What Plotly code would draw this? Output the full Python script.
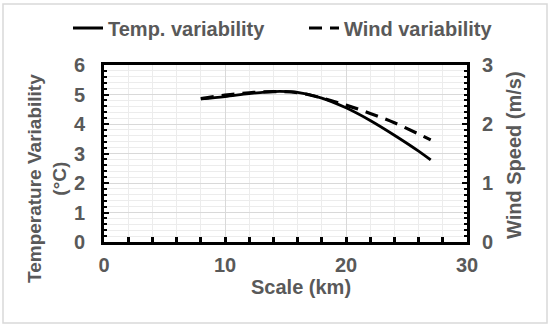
import plotly.graph_objects as go

scale_km = [8, 10, 12, 14, 16, 18, 20, 22, 24, 26, 27]
temp_var = [4.85, 4.93, 5.03, 5.10, 5.07, 4.88, 4.55, 4.12, 3.62, 3.08, 2.78]
wind_var = [2.43, 2.49, 2.53, 2.55, 2.53, 2.44, 2.32, 2.18, 2.02, 1.83, 1.73]

FONT = "Liberation Sans, Arial, sans-serif"
GRAY = "#595959"
FS = 20

fig = go.Figure()
fig.add_trace(go.Scatter(x=scale_km, y=temp_var, mode="lines", name="<b>Temp. variability</b>",
                         legend="legend",
                         line=dict(color="black", width=2.8, shape="spline")))
fig.add_trace(go.Scatter(x=scale_km, y=wind_var, mode="lines", name="<b>Wind variability</b>",
                         legend="legend2", yaxis="y2",
                         line=dict(color="black", width=3.2, dash="13px,8px", shape="spline")))

W, H = 550, 329
L, R, T, B = 104, 83, 65, 87
pw, ph = W - L - R, H - T - B

def px2paper_x(p):
    return (p - L) / pw

def px2paper_y(p):
    return (H - B - p) / ph

leg_common = dict(orientation="h", xref="paper", yref="paper", xanchor="left",
                  y=px2paper_y(28), yanchor="middle", bgcolor="rgba(0,0,0,0)",
                  font=dict(size=FS, color=GRAY), itemwidth=30)

fig.update_layout(
    width=W, height=H,
    margin=dict(l=L, r=R, t=T, b=B, autoexpand=False),
    paper_bgcolor="white", plot_bgcolor="white",
    font=dict(family=FONT, color=GRAY, size=FS),
    showlegend=True,
    legend=dict(x=px2paper_x(68), **leg_common),
    legend2=dict(x=px2paper_x(304), **leg_common),
    xaxis=dict(range=[0, 30], dtick=10, tick0=0, showgrid=True, gridcolor="#d9d9d9", gridwidth=1,
               ticks="inside", ticklen=5, tickwidth=2.5, tickcolor="black",
               minor=dict(dtick=2, ticks="inside", ticklen=5, tickwidth=2.5, tickcolor="black",
                          showgrid=True, gridcolor="#ececec", gridwidth=1),
               showline=True, linecolor="black", linewidth=3, mirror=True, zeroline=False,
               tickfont=dict(size=FS, color=GRAY, family=FONT), ticklabelstandoff=3,
               tickprefix="<b>", ticksuffix="</b>", automargin=False),
    yaxis=dict(range=[0, 6], dtick=1, showgrid=True, gridcolor="#d9d9d9", gridwidth=1,
               ticks="inside", ticklen=5, tickwidth=2, tickcolor="black",
               minor=dict(dtick=0.2, ticks="inside", ticklen=3, tickwidth=2, tickcolor="black",
                          showgrid=True, gridcolor="#ececec", gridwidth=1),
               showline=True, linecolor="black", linewidth=3, mirror=True, zeroline=False,
               tickfont=dict(size=FS, color=GRAY, family=FONT), ticklabelstandoff=12,
               tickprefix="<b>", ticksuffix="</b>", automargin=False),
    yaxis2=dict(range=[0, 3], dtick=1, overlaying="y", side="right", showgrid=False,
                ticks="inside", ticklen=5, tickwidth=2, tickcolor="black",
                minor=dict(dtick=0.1, ticks="inside", ticklen=3, tickwidth=2, tickcolor="black"),
                showline=False, zeroline=False,
                tickfont=dict(size=FS, color=GRAY, family=FONT), ticklabelstandoff=14,
                tickprefix="<b>", ticksuffix="</b>", automargin=False),
    annotations=[
        dict(text="<b>Scale (km)</b>", xref="paper", yref="paper", x=px2paper_x(301), y=px2paper_y(287),
             xanchor="center", yanchor="middle", showarrow=False, font=dict(size=FS, color=GRAY)),
        dict(text="<b>Temperature Variability<br>(°C)</b>", xref="paper", yref="paper", x=px2paper_x(47),
             y=px2paper_y(179), xanchor="center", yanchor="middle", textangle=-90, showarrow=False,
             font=dict(size=19, color=GRAY)),
        dict(text="<b>Wind Speed (m/s)</b>", xref="paper", yref="paper", x=px2paper_x(514),
             y=px2paper_y(155), xanchor="center", yanchor="middle", textangle=-90, showarrow=False,
             font=dict(size=FS, color=GRAY)),
    ],
    shapes=[dict(type="rect", xref="paper", yref="paper",
                 x0=px2paper_x(3), x1=px2paper_x(547), y0=px2paper_y(323), y1=px2paper_y(4),
                 line=dict(color="#d9d9d9", width=1.5), fillcolor="rgba(0,0,0,0)", layer="below")],
)

fig.write_html("out.html", config={"displayModeBar": False},
               post_script="document.body.style.margin='0';")
